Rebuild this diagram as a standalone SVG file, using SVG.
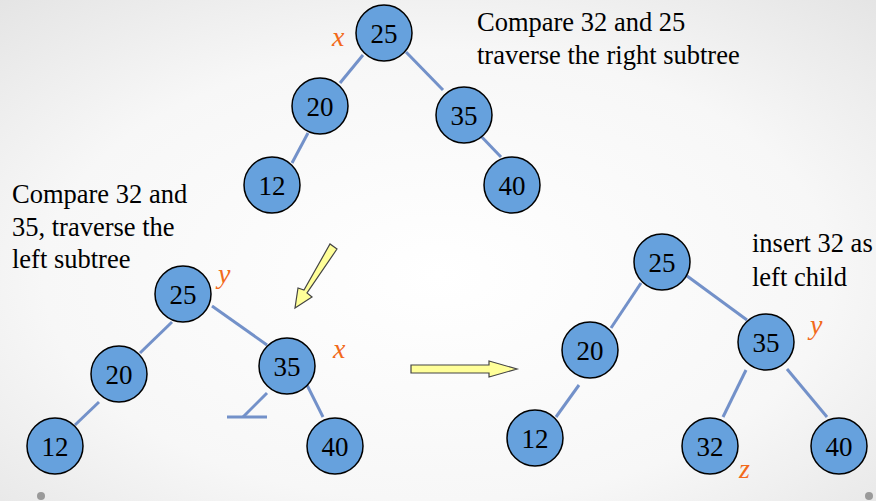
<svg xmlns="http://www.w3.org/2000/svg" width="876" height="501" viewBox="0 0 876 501">
<defs>
<radialGradient id="bg" cx="0.5" cy="0.55" r="0.75">
<stop offset="0" stop-color="#ffffff"/>
<stop offset="0.6" stop-color="#f7f7f7"/>
<stop offset="1" stop-color="#e4e4e4"/>
</radialGradient>
<style>
.n circle{fill:#66a1dd;stroke:#000;stroke-width:1.5}
.n text{font-family:"Liberation Serif",serif;font-size:27px;fill:#000;text-anchor:middle}
.e line{stroke:#7391c9;stroke-width:3;stroke-linecap:butt}
.lbl{font-family:"Liberation Serif",serif;font-size:26.5px;fill:#000}
.var{font-family:"Liberation Serif",serif;font-style:italic;font-size:28px;fill:#f26a1b}
.arr{fill:#ffff99;stroke:#444;stroke-width:1.2}
</style>
</defs>
<rect width="876" height="501" fill="url(#bg)"/>

<g id="connectors" class="e">
<line x1="363" y1="55" x2="340" y2="83"/>
<line x1="406" y1="52" x2="443" y2="90"/>
<line x1="308" y1="133" x2="292" y2="163"/>
<line x1="477" y1="132" x2="501" y2="157"/>

<line x1="172" y1="322" x2="140" y2="353"/>
<line x1="212" y1="306" x2="267" y2="345"/>
<line x1="99" y1="402" x2="75" y2="425"/>
<line x1="307" y1="385" x2="323" y2="417"/>
<line x1="267" y1="393" x2="243" y2="417"/>
<line x1="227" y1="417" x2="267" y2="417"/>

<line x1="641" y1="283" x2="611" y2="328"/>
<line x1="683" y1="273" x2="747" y2="320"/>
<line x1="579" y1="385" x2="556" y2="417"/>
<line x1="746" y1="370" x2="723" y2="417"/>
<line x1="787" y1="369" x2="827" y2="417"/>
</g>

<g id="t1-25" class="n"><circle cx="384" cy="33" r="28"/><text x="384" y="43">25</text></g>
<g id="t1-20" class="n"><circle cx="320" cy="106" r="28"/><text x="320" y="116">20</text></g>
<g id="t1-35" class="n"><circle cx="464" cy="115" r="28"/><text x="464" y="125">35</text></g>
<g id="t1-12" class="n"><circle cx="272" cy="185" r="28"/><text x="272" y="195">12</text></g>
<g id="t1-40" class="n"><circle cx="512" cy="185" r="28"/><text x="512" y="195">40</text></g>

<g id="t2-25" class="n"><circle cx="183" cy="294" r="28"/><text x="183" y="304">25</text></g>
<g id="t2-20" class="n"><circle cx="119" cy="374" r="28"/><text x="119" y="384">20</text></g>
<g id="t2-35" class="n"><circle cx="287" cy="366" r="28"/><text x="287" y="376">35</text></g>
<g id="t2-12" class="n"><circle cx="55" cy="446" r="28"/><text x="55" y="456">12</text></g>
<g id="t2-40" class="n"><circle cx="335" cy="446" r="28"/><text x="335" y="456">40</text></g>

<g id="t3-25" class="n"><circle cx="662" cy="262" r="28"/><text x="662" y="272">25</text></g>
<g id="t3-20" class="n"><circle cx="590" cy="350" r="28"/><text x="590" y="360">20</text></g>
<g id="t3-35" class="n"><circle cx="766" cy="342" r="28"/><text x="766" y="352">35</text></g>
<g id="t3-12" class="n"><circle cx="535" cy="438" r="28"/><text x="535" y="448">12</text></g>
<g id="t3-32" class="n"><circle cx="710" cy="446" r="28"/><text x="710" y="456">32</text></g>
<g id="t3-40" class="n"><circle cx="839" cy="446" r="28"/><text x="839" y="456">40</text></g>

<g id="arrows">
<polygon class="arr" points="337,249 330,244 304,290 298,288 295,308 312,297 307,293"/>
<polygon class="arr" points="411,365 489,365 489,361 517,369 489,377 489,373 411,373"/>
</g>

<g id="labels">
<text class="var" x="332" y="46">x</text>
<text class="var" x="218" y="283">y</text>
<text class="var" x="333" y="358">x</text>
<text class="var" x="810" y="334">y</text>
<text class="var" x="739" y="478">z</text>
<text class="lbl" x="477" y="31">Compare 32 and 25</text>
<text class="lbl" x="477" y="64">traverse the right subtree</text>
<text class="lbl" x="12" y="203">Compare 32 and</text>
<text class="lbl" x="12" y="236">35, traverse the</text>
<text class="lbl" x="12" y="268">left subtree</text>
<text class="lbl" x="752" y="252">insert 32 as</text>
<text class="lbl" x="752" y="286">left child</text>
</g>

<circle cx="41" cy="496" r="4" fill="#9a9a9a"/>
<circle cx="869" cy="496" r="4" fill="#9a9a9a"/>
</svg>
